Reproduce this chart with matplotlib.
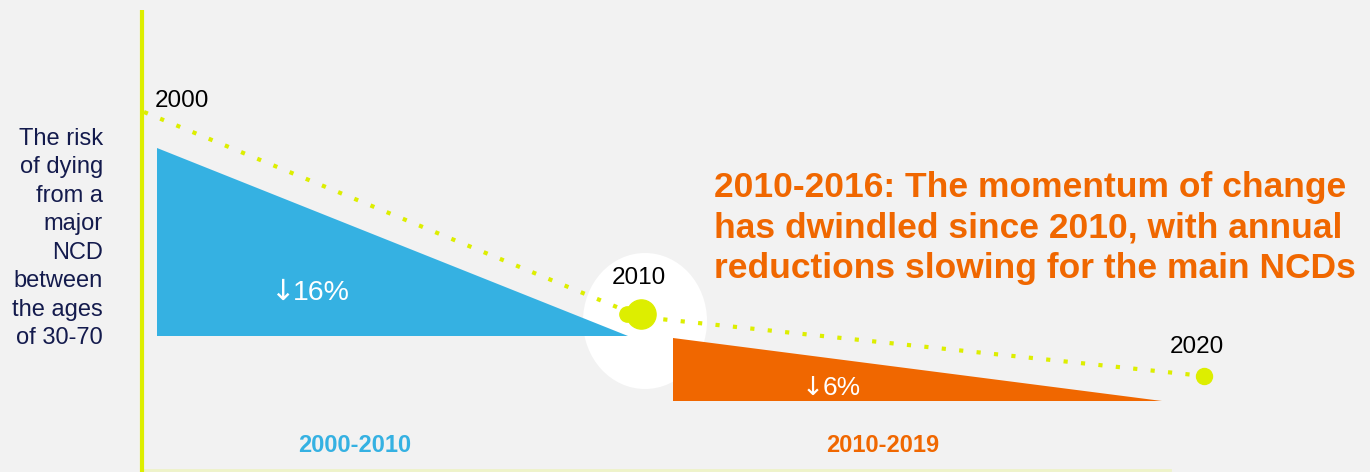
import matplotlib.pyplot as plt
from matplotlib.patches import Polygon, Ellipse

# timeline points (pixel space of the slide)
years = ["2000", "2010", "2020"]
trend_x = [144, 641, 1204]
trend_y = [112, 317, 376]

# reduction wedges
blue_x = [157, 157, 628]
blue_y = [148, 336, 336]
orange_x = [673, 673, 1162]
orange_y = [338, 401, 401]
drops = ["16%", "6%"]
periods = ["2000-2010", "2010-2019"]

lime = "#DDEE00"
blue = "#35B1E2"
orange = "#F06700"
navy = "#141B4D"
bg = "#F2F2F2"

fig = plt.figure(figsize=(13.7, 4.72), dpi=100, facecolor=bg)
ax = fig.add_axes([0, 0, 1, 1])
ax.set_xlim(0, 1370)
ax.set_ylim(472, 0)
ax.set_facecolor(bg)
ax.axis("off")

# white halo behind 2010
ax.add_patch(Ellipse((645, 321), 124, 136, facecolor="white", edgecolor="none", zorder=1))

# wedges
ax.add_patch(Polygon(list(zip(blue_x, blue_y)), closed=True, facecolor=blue, edgecolor="none", zorder=2))
ax.add_patch(Polygon(list(zip(orange_x, orange_y)), closed=True, facecolor=orange, edgecolor="none", zorder=2))

# axis lines
ax.plot([142, 142], [10, 472], color=lime, linewidth=3, solid_capstyle="butt", zorder=3)
ax.plot([142, 1170], [470, 470], color="#EEF3C8", linewidth=2, zorder=1)

# dotted trend
ax.plot(trend_x, trend_y, color=lime, linewidth=3, linestyle=(0, (1, 3.2)),
        dash_capstyle="butt", zorder=4)
ax.plot(trend_x[1] - 14, trend_y[1] - 3, "o", color=lime, markersize=11, zorder=5)
ax.plot(trend_x[1], trend_y[1] - 3, "o", color=lime, markersize=21, zorder=5)
ax.plot(trend_x[2], trend_y[2], "o", color=lime, markersize=11.5, zorder=5)

font = ["Liberation Sans", "DejaVu Sans"]

# year labels
ax.text(155, 107, years[0], fontsize=17.5, family=font, color="black", ha="left", va="baseline")
ax.text(639, 284, years[1], fontsize=17.5, family=font, color="black", ha="center", va="baseline", zorder=6)
ax.text(1197, 353, years[2], fontsize=17.5, family=font, color="black", ha="center", va="baseline")

# drop labels (arrow + number)
ax.text(294, 300, "\u2193", fontsize=21, family="DejaVu Sans", color="white", ha="right", va="baseline", zorder=6)
ax.text(293, 300, drops[0], fontsize=20.5, family=font, color="white", ha="left", va="baseline", zorder=6)
ax.text(824, 395, "\u2193", fontsize=19, family="DejaVu Sans", color="white", ha="right", va="baseline", zorder=6)
ax.text(823, 395, drops[1], fontsize=19, family=font, color="white", ha="left", va="baseline", zorder=6)

# period labels
ax.text(355, 445, periods[0], fontsize=17, family=font, weight="bold", color=blue, ha="center", va="center")
ax.text(883, 445, periods[1], fontsize=17, family=font, weight="bold", color=orange, ha="center", va="center")

# y label
ax.text(103, 344, "The risk\nof dying\nfrom a\nmajor\nNCD\nbetween\nthe ages\nof 30-70",
        fontsize=17, family=font, color=navy, ha="right", va="baseline",
        multialignment="right", linespacing=1.38)

# headline
ax.text(714, 278, "2010-2016: The momentum of change\nhas dwindled since 2010, with annual\nreductions slowing for the main NCDs",
        fontsize=25.5, family=font, weight="bold", color=orange, ha="left", va="baseline",
        linespacing=1.28)

fig.savefig("out.png", dpi=100, facecolor=bg)
